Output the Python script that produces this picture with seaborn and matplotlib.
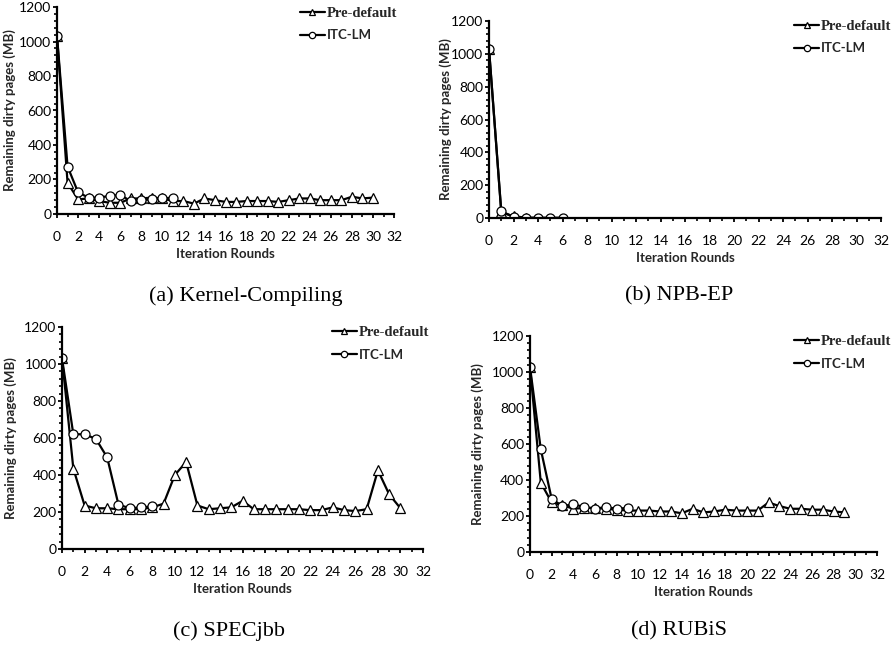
import pandas as pd
import matplotlib
matplotlib.use("Agg")
import matplotlib.pyplot as plt
import seaborn as sns
from matplotlib.ticker import MultipleLocator

# --- Data ---
kc_pre = [1030, 180, 85, 90, 75, 65, 65, 90, 90, 95, 90, 75, 75, 60, 90, 80, 70, 70,
          75, 75, 75, 70, 80, 90, 90, 80, 80, 80, 100, 90, 95]
kc_itc = [1030, 275, 125, 95, 95, 105, 110, 75, 80, 85, 90, 95]

ep_pre = [1030, 35, 10, 3]
ep_itc = [1030, 40, 8, 3, 2, 2, 2]

jbb_pre = [1030, 435, 235, 220, 220, 215, 215, 215, 225, 245, 400, 470, 235, 215, 220,
           225, 260, 215, 215, 215, 215, 215, 210, 210, 225, 210, 205, 215, 425, 295, 220]
jbb_itc = [1030, 620, 620, 595, 495, 240, 220, 225, 230]

rub_pre = [1030, 385, 275, 260, 240, 245, 245, 240, 235, 230, 230, 230, 225, 225, 215,
           240, 220, 225, 235, 230, 230, 230, 275, 255, 240, 240, 235, 235, 225, 220]
rub_itc = [1030, 570, 295, 255, 265, 250, 240, 250, 240, 245]

panels = [
    ("(a) Kernel-Compiling", kc_pre, kc_itc),
    ("(b) NPB-EP", ep_pre, ep_itc),
    ("(c) SPECjbb", jbb_pre, jbb_itc),
    ("(d) RUBiS", rub_pre, rub_itc),
]

# --- Layout (figure fractions) ---
axes_pos = [
    [0.0638, 0.6708, 0.3770, 0.3184],
    [0.5470, 0.6646, 0.4385, 0.3031],
    [0.0694, 0.1554, 0.4038, 0.3416],
    [0.5928, 0.1508, 0.3882, 0.3323],
]
ylabel_x = [-0.122, -0.094, -0.125, -0.133]
legend_anchor = [(0.450, 0.998), (1.003, 0.978), (0.486, 0.507), (1.003, 0.493)]
caption_pos = [(0.275, 0.545), (0.76, 0.545), (0.256, 0.029), (0.76, 0.029)]

sns.set_theme(style="ticks")
plt.rcParams['font.family'] = ['Lato', 'DejaVu Sans']

fig = plt.figure(figsize=(8.94, 6.5), dpi=100)

for i, (caption, pre, itc) in enumerate(panels):
    ax = fig.add_axes(axes_pos[i])
    df_pre = pd.DataFrame({'round': range(len(pre)), 'value': pre})
    df_itc = pd.DataFrame({'round': range(len(itc)), 'value': itc})
    sns.lineplot(data=df_pre, x='round', y='value', ax=ax, color='black', lw=1.6,
                 marker='^', markersize=6.5, markerfacecolor='white', markeredgecolor='black',
                 markeredgewidth=0.9, label='Pre-default')
    sns.lineplot(data=df_itc, x='round', y='value', ax=ax, color='black', lw=1.6,
                 marker='o', markersize=6.5, markerfacecolor='white', markeredgecolor='black',
                 markeredgewidth=0.9, label='ITC-LM')

    ax.set_xlim(0, 32)
    ax.set_ylim(0, 1200)
    ax.xaxis.set_major_locator(MultipleLocator(2))
    ax.xaxis.set_minor_locator(MultipleLocator(1))
    ax.yaxis.set_major_locator(MultipleLocator(200))
    ax.yaxis.set_minor_locator(MultipleLocator(40))
    ax.tick_params(which='major', direction='out', length=3, width=1.3, labelsize=10,
                   colors='black')
    ax.tick_params(axis='x', which='major', pad=9)
    ax.tick_params(axis='y', which='major', pad=1)
    ax.tick_params(which='minor', direction='out', length=2.5, width=1.2, colors='black')
    for side in ['left', 'bottom']:
        ax.spines[side].set_linewidth(1.6)
        ax.spines[side].set_color('black')
    sns.despine(ax=ax)

    ax.set_xlabel('Iteration Rounds', fontsize=9.5, fontweight='bold', labelpad=4)
    ax.set_ylabel('Remaining dirty pages (MB)', fontsize=9.5, fontweight='bold')
    ax.yaxis.set_label_coords(ylabel_x[i], 0.5)

    leg = ax.legend(loc='upper right', bbox_to_anchor=legend_anchor[i],
                    bbox_transform=fig.transFigure, frameon=False, fontsize=9.5,
                    handlelength=1.9, handletextpad=0.15, labelspacing=0.75, borderaxespad=0,
                    markerscale=0.7)
    texts = leg.get_texts()
    texts[0].set_fontfamily('Liberation Serif')
    texts[0].set_fontweight('bold')
    texts[0].set_fontsize(10.5)
    texts[1].set_fontweight('bold')

    fig.text(caption_pos[i][0], caption_pos[i][1], caption, ha='center', va='center',
             fontsize=16, family='Liberation Serif', color='black')

plt.savefig('out.png', dpi=100)
plt.close()
